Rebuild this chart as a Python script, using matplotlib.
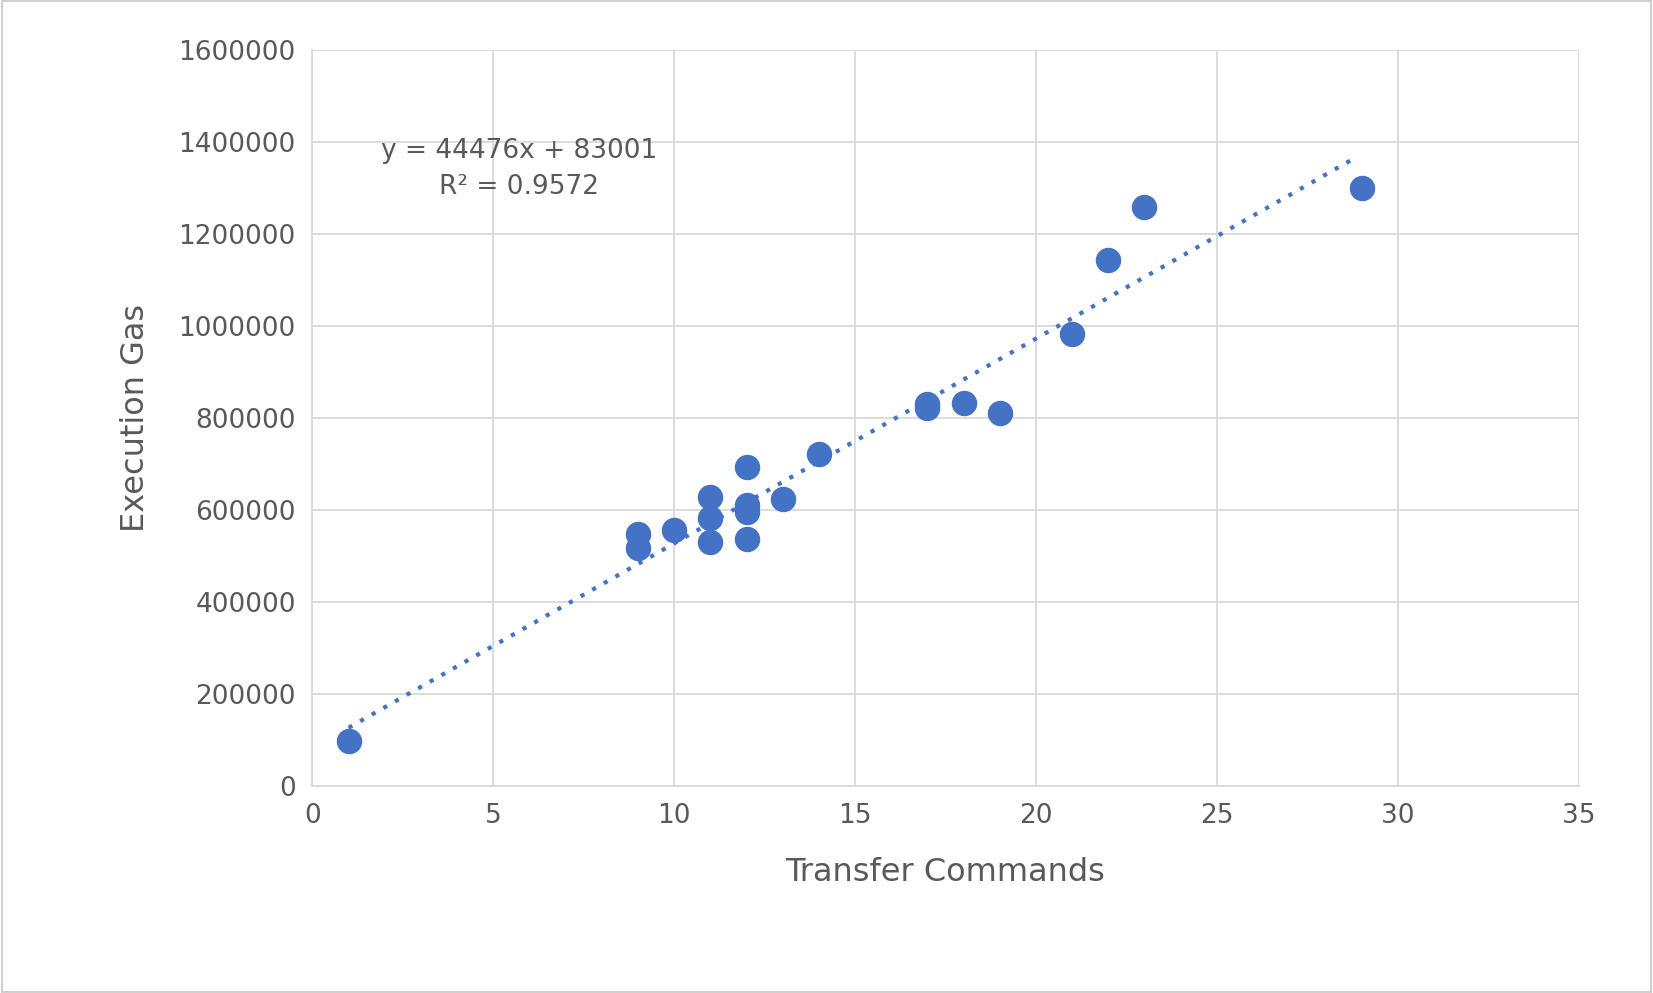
import matplotlib
matplotlib.use("Agg")
import matplotlib.pyplot as plt
from matplotlib.ticker import FuncFormatter
import numpy as np

x = [1, 9, 9, 10, 11, 11, 11, 12, 12, 12, 12, 13, 14, 17, 17, 18, 19, 21, 22, 23, 29]
y = [98000, 549000, 517000, 556000, 629000, 584000, 531000, 694000, 611000, 597000, 538000,
     625000, 721000, 831000, 822000, 832000, 810000, 982000, 1144000, 1259000, 1300000]
slope, intercept = 44476, 83001
trend_x = [1, 28.8]

fig = plt.figure(figsize=(16.53, 9.93), dpi=100)
fig.patches.append(plt.Rectangle((0.001, 0.001), 0.998, 0.998, transform=fig.transFigure,
                                 fill=False, edgecolor="#d0d0d0", linewidth=1.5))
ax = fig.add_axes([0.189, 0.208, 0.766, 0.742])
c = "#4472C4"
tx = np.array(trend_x)
ax.plot(tx, slope * tx + intercept, linestyle=(0, (1, 2.2)), color=c, linewidth=3, zorder=2)
ax.scatter(x, y, s=300, color=c, zorder=3)
ax.set_xlim(0, 35)
ax.set_ylim(0, 1600000)
ax.set_xticks(range(0, 36, 5))
ax.set_yticks(range(0, 1600001, 200000))
ax.yaxis.set_major_formatter(FuncFormatter(lambda v, p: f"{int(v)}"))
ax.grid(True, color="#d9d9d9", linewidth=1.3)
ax.set_axisbelow(True)
for s in ["top", "right"]:
    ax.spines[s].set_visible(False)
for s in ["left", "bottom"]:
    ax.spines[s].set_color("#d9d9d9")
    ax.spines[s].set_linewidth(1.3)
ax.tick_params(length=0, labelsize=19, colors="#595959", pad=12)
ax.set_xlabel("Transfer Commands", fontsize=23, color="#595959", labelpad=20)
ax.set_ylabel("Execution Gas", fontsize=23, color="#595959", labelpad=20)
ax.text(5.7, 1340000, "y = 44476x + 83001\nR² = 0.9572", ha="center", va="center",
        fontsize=19, color="#595959", linespacing=1.5)
fig.savefig("out.png", dpi=100)
